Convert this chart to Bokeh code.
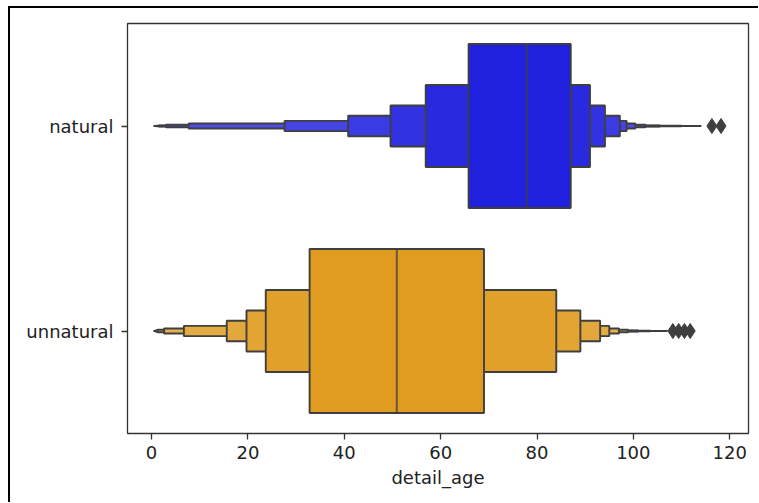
from bokeh.plotting import figure
from bokeh.models import Range1d, FixedTicker, ColumnDataSource
from bokeh.layouts import column
from bokeh.embed import file_html
from bokeh.resources import INLINE

# ---- data ----
categories = ["natural", "unnatural"]
x_ticks = [0, 20, 40, 60, 80, 100, 120]

natural_lower = [65.8, 56.9, 49.6, 40.8, 27.6, 7.7, 3.0, 1.5, 1.0, 0.5]
natural_upper = [87.0, 91.0, 94.1, 97.2, 98.6, 100.4, 102.5, 105.5, 110.0, 114.0]
natural_median = 77.9
natural_outliers = [116.3, 118.2]

unnatural_lower = [32.8, 23.7, 19.7, 15.6, 6.7, 2.6, 1.2, 0.9, 0.7, 0.5]
unnatural_upper = [69.0, 84.0, 89.0, 93.1, 95.0, 97.0, 98.9, 101.0, 103.5, 107.0]
unnatural_median = 50.9
unnatural_outliers = [108.2, 109.4, 110.6, 111.8]

base_colors = ["#2020df", "#df9c20"]
edge = "#3f3f3f"
FONT = "DejaVu Sans"

p = figure(width=748, height=494, output_backend="svg", toolbar_location=None,
           x_range=Range1d(-5.0, 123.9), y_range=Range1d(1.5, -0.5),
           min_border_left=117, min_border_right=10, min_border_top=15, min_border_bottom=69)
p.background_fill_color = "white"
p.border_fill_color = "white"
p.xgrid.visible = False
p.ygrid.visible = False
p.outline_line_color = "#333333"
p.outline_line_width = 1.3


def lighten(hexcol, f):
    r = int(hexcol[1:3], 16); g = int(hexcol[3:5], 16); b = int(hexcol[5:7], 16)
    r = round(r + (255 - r) * f); g = round(g + (255 - g) * f); b = round(b + (255 - b) * f)
    return "#%02x%02x%02x" % (r, g, b)


groups = [
    (natural_lower, natural_upper, natural_median, natural_outliers),
    (unnatural_lower, unnatural_upper, unnatural_median, unnatural_outliers),
]

for ci, (lows, ups, med, outs) in enumerate(groups):
    n = len(lows)
    left, right, top, bottom, colors = [], [], [], [], []
    for k in reversed(range(n)):
        half = 0.4 / (2 ** k)
        left.append(lows[k]); right.append(ups[k])
        top.append(ci - half); bottom.append(ci + half)
        colors.append(lighten(base_colors[ci], 0.04 * k))
    src = ColumnDataSource(dict(left=left, right=right, top=top, bottom=bottom, color=colors))
    p.quad(left="left", right="right", top="top", bottom="bottom", source=src,
           fill_color="color", line_color=edge, line_width=1.9)
    p.segment(x0=[med], x1=[med], y0=[ci - 0.4], y1=[ci + 0.4],
              line_color=edge, line_width=2, line_alpha=0.75)
    p.scatter(x=outs, y=[ci] * len(outs), marker="diamond", size=15,
              fill_color=edge, line_color=edge)

p.xaxis.ticker = FixedTicker(ticks=x_ticks)
p.yaxis.ticker = FixedTicker(ticks=list(range(len(categories))))
p.yaxis.major_label_overrides = {i: c for i, c in enumerate(categories)}
p.xaxis.axis_label = "detail_age"

for ax in (p.xaxis[0], p.yaxis[0]):
    ax.axis_line_color = None
    ax.minor_tick_line_color = None
    ax.major_tick_in = 0
    ax.major_tick_out = 6
    ax.major_tick_line_color = "#333333"
    ax.major_tick_line_width = 1.3
    ax.major_label_standoff = 6
    ax.major_label_text_font = FONT
    ax.major_label_text_font_size = "18px"
    ax.major_label_text_color = "#222222"
    ax.axis_label_text_font = FONT
    ax.axis_label_text_font_size = "18px"
    ax.axis_label_text_font_style = "normal"
    ax.axis_label_text_color = "#222222"
    ax.axis_label_standoff = 5
p.yaxis[0].major_label_standoff = 8

layout = column(p, styles={"border-top": "2px solid black", "border-left": "2px solid black",
                           "margin-left": "8px", "margin-top": "6px"})
open("out.html", "w").write(file_html(layout, INLINE))
